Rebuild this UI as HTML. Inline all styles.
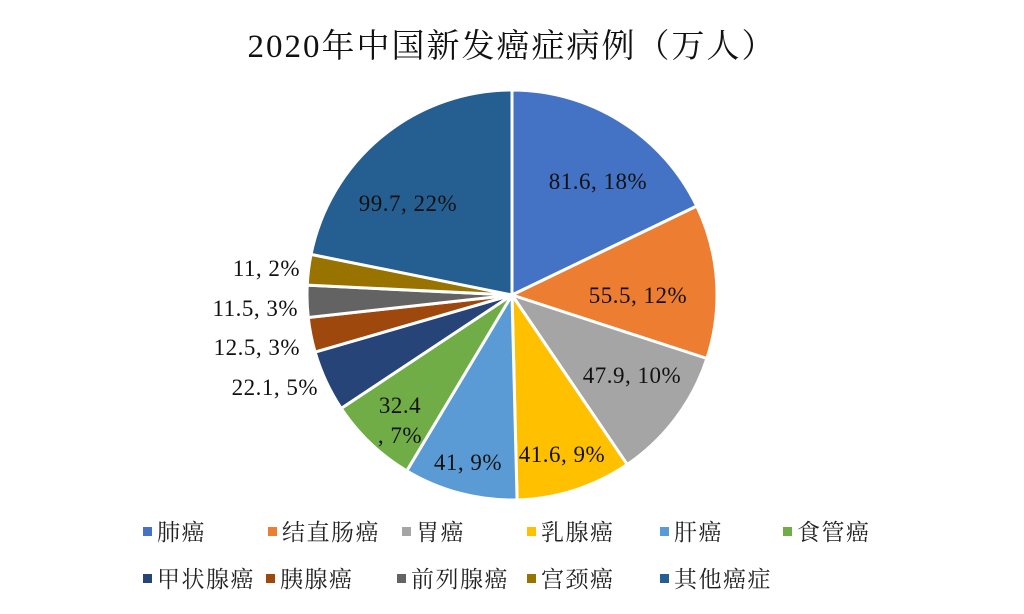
<!DOCTYPE html>
<html><head><meta charset="utf-8">
<style>
body{margin:0;background:#fff;width:1024px;height:614px;overflow:hidden;}
svg{display:block}
.t{font-family:"Liberation Serif","Noto Serif CJK SC",serif;}
</style></head><body>
<svg id="s" width="1024" height="614" xmlns="http://www.w3.org/2000/svg">
<text class="t" x="512" y="57" font-size="33" letter-spacing="2" text-anchor="middle" fill="#111">2020年中国新发癌症病例（万人）</text>
<g id="pie"></g>
<g class="t" font-size="23" letter-spacing="0.5" fill="#111">
<text x="598" y="189" text-anchor="middle">81.6, 18%</text>
<text x="638" y="303" text-anchor="middle">55.5, 12%</text>
<text x="632" y="383" text-anchor="middle">47.9, 10%</text>
<text x="562" y="462" text-anchor="middle">41.6, 9%</text>
<text x="468" y="470" text-anchor="middle">41, 9%</text>
<text x="400" y="413" text-anchor="middle">32.4</text>
<text x="400" y="443" text-anchor="middle">, 7%</text>
<text x="318" y="395" text-anchor="end">22.1, 5%</text>
<text x="300" y="355" text-anchor="end">12.5, 3%</text>
<text x="298" y="316" text-anchor="end">11.5, 3%</text>
<text x="300" y="276" text-anchor="end">11, 2%</text>
<text x="408" y="211" text-anchor="middle">99.7, 22%</text>
</g>
<g id="leg" class="t" font-size="23" letter-spacing="1.5" fill="#222"></g>
</svg>
<script>
var v=[81.6,55.5,47.9,41.6,41,32.4,22.1,12.5,11.5,11,99.7];
var c=["#4472C4","#ED7D31","#A5A5A5","#FFC000","#5B9BD5","#70AD47","#264478","#9E480E","#636363","#997300","#255E91"];
var n=["肺癌","结直肠癌","胃癌","乳腺癌","肝癌","食管癌","甲状腺癌","胰腺癌","前列腺癌","宫颈癌","其他癌症"];
var T=v.reduce(function(a,b){return a+b},0),cx=512,cy=295,r=205,a=0,h="";
for(var i=0;i<v.length;i++){var a2=a+v[i]/T*2*Math.PI;
var x1=cx+r*Math.sin(a),y1=cy-r*Math.cos(a),x2=cx+r*Math.sin(a2),y2=cy-r*Math.cos(a2);
h+='<path d="M'+cx+' '+cy+'L'+x1+' '+y1+'A'+r+' '+r+' 0 '+(a2-a>Math.PI?1:0)+' 1 '+x2+' '+y2+'Z" fill="'+c[i]+'" stroke="#fff" stroke-width="3" stroke-linejoin="round"/>';a=a2;}
document.getElementById("pie").innerHTML=h;
var L=[[143,540],[268,540],[402,540],[527,540],[660,540],[783,540],[143,587],[266,587],[397,587],[527,587],[660,587]],g="";
for(i=0;i<11;i++){g+='<rect x="'+L[i][0]+'" y="'+(L[i][1]-13)+'" width="9" height="9" fill="'+c[i]+'"/><text x="'+(L[i][0]+14)+'" y="'+L[i][1]+'">'+n[i]+'</text>';}
document.getElementById("leg").innerHTML=g;
</script>
</body></html>
